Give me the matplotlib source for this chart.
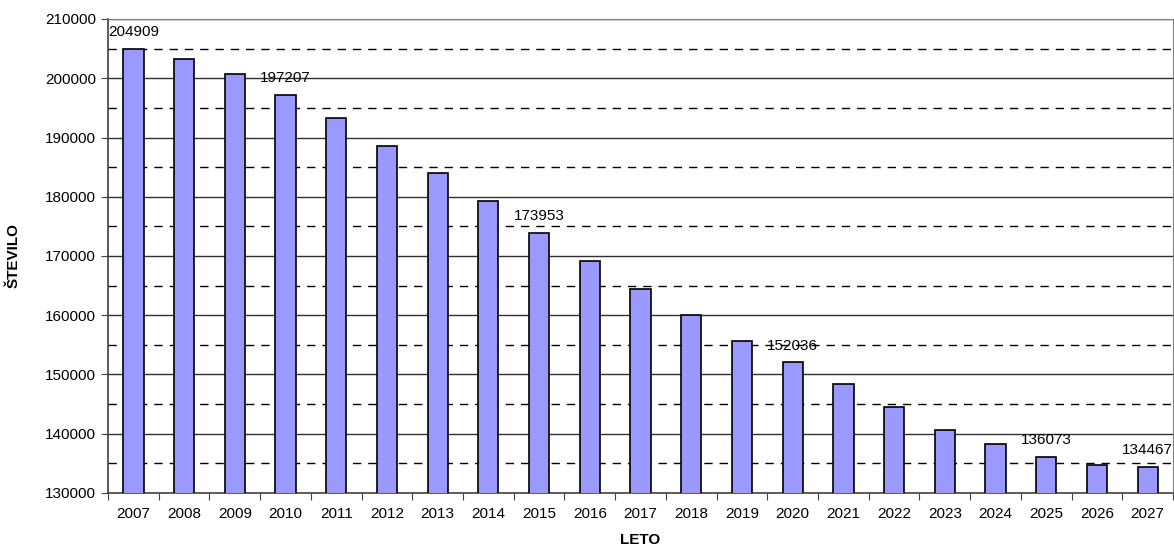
import matplotlib.pyplot as plt
import numpy as np

plt.rcParams["font.family"] = ["Liberation Sans", "DejaVu Sans"]

years = [str(y) for y in range(2007, 2028)]
values = [204909, 203250, 200700, 197207, 193250, 188600, 184050, 179300,
          173953, 169150, 164500, 160100, 155650, 152036, 148400, 144500,
          140600, 138200, 136073, 134770, 134467]
# which bars carry a value label
labelled = ["2007", "2010", "2015", "2020", "2025", "2027"]

fig = plt.figure(figsize=(11.74, 5.47), dpi=100)
ax = fig.add_axes([108 / 1174, 1 - 493 / 547, 1065 / 1174, 474 / 547])

x = np.arange(len(years))
ax.bar(x, values, width=0.4, color="#9999ff", edgecolor="black", linewidth=1.2, zorder=3)

for i, (yr, v) in enumerate(zip(years, values)):
    if yr in labelled:
        ax.annotate(str(v), (i, v), xytext=(0, 7), textcoords="offset points",
                    ha="center", va="bottom", fontsize=11)

ax.set_ylim(130000, 210000)
ax.set_xlim(-0.5, len(years) - 0.5)

# solid major grid, dashed half-step lines
ax.set_yticks(np.arange(130000, 210001, 10000))
for yv in np.arange(140000, 210001, 10000):
    ax.axhline(yv, color="#303030", linewidth=1, zorder=1)
for yv in np.arange(135000, 210000, 10000):
    ax.axhline(yv, color="black", linewidth=1, linestyle=(0, (6, 5)), zorder=1)

ax.set_xticks(np.arange(-0.5, len(years), 1))
ax.set_xticklabels([])
ax.set_xticks(x, minor=True)
ax.set_xticklabels(years, minor=True, fontsize=11)
ax.tick_params(axis="x", which="minor", length=0, pad=10)
ax.tick_params(axis="x", which="major", length=5, direction="out", color="#404040")
ax.tick_params(axis="y", length=5, direction="out", labelsize=11, color="#404040")

for side in ["left", "bottom"]:
    ax.spines[side].set_color("#404040")
    ax.spines[side].set_linewidth(1.2)
for side in ["top", "right"]:
    ax.spines[side].set_color("#808080")

ax.set_xlabel("LETO", fontsize=11, fontweight="bold", labelpad=9)
ax.set_ylabel("ŠTEVILO", fontsize=11, fontweight="bold", labelpad=18)

fig.savefig("out.png", dpi=100)
